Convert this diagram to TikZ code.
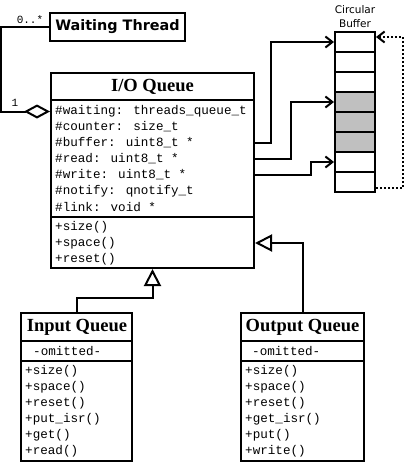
\documentclass[tikz,border=0pt]{standalone}
\usepackage{fontspec}
\setmainfont{Liberation Serif}
\newfontfamily\monof{Liberation Mono}
\newfontfamily\sansf{DejaVu Sans}
\usetikzlibrary{arrows.meta,calc}
\definecolor{cellgray}{HTML}{C0C0C0}
\begin{document}
\begin{tikzpicture}[x=1pt,y=-1pt,
  cls/.style={draw,line width=2pt,inner sep=0pt,fill=white},
  ttl/.style={inner sep=0pt,font=\bfseries\fontsize{18.5}{20}\selectfont},
  row/.style={anchor=west,inner sep=0pt,font=\monof\fontsize{12.6}{14}\selectfont},
  lbl/.style={inner sep=0pt,font=\monof\fontsize{11}{12}\selectfont},
  sep/.style={line width=2pt},
  cell/.style={draw,line width=2pt,minimum width=40pt,minimum height=20pt,inner sep=0pt},
  link/.style={line width=2pt,-{Straight Barb[length=7pt,width=11pt,line width=2pt]}},
  gen/.style={line width=2pt,-{Triangle[open,length=17pt,width=17pt,line width=2pt]}},
  agg/.style={line width=2pt,{Diamond[open,length=26pt,width=14pt,line width=2pt]}-}
]
\useasboundingbox (0,0) rectangle (406,463);

% Waiting Thread
\node[cls,minimum width=135pt,minimum height=28pt,
      font=\sansf\bfseries\fontsize{14.4}{16}\selectfont] (wt) at (117.5,27) {Waiting Thread};

% I/O Queue
\node[cls,minimum width=203pt,minimum height=195pt] (io) at (152.5,170.5) {};
\node[ttl] (iot) at (152.5,87) {I/O Queue};
\draw[sep] (io.west |- 0,100) -- (io.east |- 0,100);
\draw[sep] (io.west |- 0,217) -- (io.east |- 0,217);
\node[row] (a1) at (55,111.5) {\#waiting: threads\_queue\_t};
\node[row] (a2) at (55,127) {\#counter: size\_t};
\node[row] (a3) at (55,143) {\#buffer: uint8\_t *};
\node[row] (a4) at (55,159) {\#read: uint8\_t *};
\node[row] (a5) at (55,175) {\#write: uint8\_t *};
\node[row] (a6) at (55,191) {\#notify: qnotify\_t};
\node[row] (a7) at (55,207) {\#link: void *};
\node[row] (m1) at (55,227) {+size()};
\node[row] (m2) at (55,243) {+space()};
\node[row] (m3) at (55,259) {+reset()};

% Input Queue
\node[cls,minimum width=111pt,minimum height=148pt] (iq) at (76.5,387) {};
\node[ttl] (iqt) at (77,327) {Input Queue};
\draw[sep] (iq.west |- 0,341) -- (iq.east |- 0,341);
\node[row] (iqo) at (33,351) {-omitted-};
\draw[sep] (iq.west |- 0,361) -- (iq.east |- 0,361);
\node[row] (i1) at (25,371) {+size()};
\node[row] (i2) at (25,387) {+space()};
\node[row] (i3) at (25,403) {+reset()};
\node[row] (i4) at (25,419) {+put\_isr()};
\node[row] (i5) at (25,435) {+get()};
\node[row] (i6) at (25,451) {+read()};

% Output Queue
\node[cls,minimum width=123pt,minimum height=148pt] (oq) at (302.5,387) {};
\node[ttl] (oqt) at (302.5,327) {Output Queue};
\draw[sep] (oq.west |- 0,341) -- (oq.east |- 0,341);
\node[row] (oqo) at (252,351) {-omitted-};
\draw[sep] (oq.west |- 0,361) -- (oq.east |- 0,361);
\node[row] (o1) at (245,371) {+size()};
\node[row] (o2) at (245,387) {+space()};
\node[row] (o3) at (245,403) {+reset()};
\node[row] (o4) at (245,419) {+get\_isr()};
\node[row] (o5) at (245,435) {+put()};
\node[row] (o6) at (245,451) {+write()};

% Circular buffer
\node[align=center,inner sep=0pt,font=\sansf\fontsize{10.5}{14}\selectfont] (cbl) at (355,17) {Circular\\Buffer};
\node[cell] (c1) at (355,42) {};
\node[cell] (c2) at (355,62) {};
\node[cell] (c3) at (355,82) {};
\node[cell,fill=cellgray] (c4) at (355,102) {};
\node[cell,fill=cellgray] (c5) at (355,122) {};
\node[cell,fill=cellgray] (c6) at (355,142) {};
\node[cell] (c7) at (355,162) {};
\node[cell] (c8) at (355,182) {};

% pointers to buffer
\draw[link] (io.east |- a3) -| (c1.west -| 271,0) -- (c1.west);
\draw[link] (io.east |- a4) -| (c4.west -| 291,0) -- (c4.west);
\draw[link] (io.east |- a5) -| (c7.west -| 311,0) -- (c7.west);
\draw[link,dash pattern=on 2pt off 2pt] ([yshift=-6pt]c8.east) -- ++(27,0) |- ([yshift=5pt]c1.east);

% aggregation
\draw[agg] (io.west |- a1) -- ++(-49,0) |- (wt.west);
\node[lbl] (l0) at (30,20) {0..*};
\node[lbl] (l1) at (15,103) {1};

% generalizations
\draw[gen] (iq.north) -- ++(0,-14) -| (io.south);
\draw[gen] (oq.north) |- (io.east |- m2);
\end{tikzpicture}
\end{document}
